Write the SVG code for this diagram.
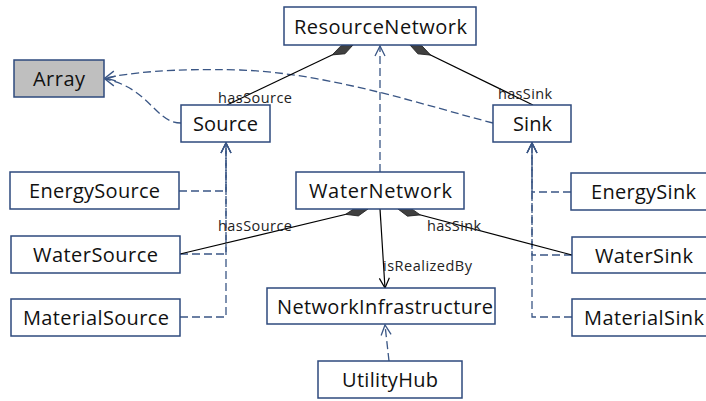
<svg xmlns="http://www.w3.org/2000/svg" width="706" height="401" viewBox="0 0 706 401">
<style>
.box{fill:#fff;stroke:#2e4a7d;stroke-width:1.5}
.gray{fill:#bfbfbf}
.t{font-family:"Open Sans","Noto Sans",sans-serif;font-size:20px;fill:#111;text-anchor:middle}
.l{font-family:"Open Sans","Noto Sans",sans-serif;font-size:14.5px;fill:#222}
.dash{fill:none;stroke:#3a5685;stroke-width:1.3;stroke-dasharray:8 4}
.comp{fill:none;stroke:#000;stroke-width:1.2}
</style>
<defs>
<marker id="open" viewBox="-11 -6 12 12" refX="0" refY="0" markerWidth="12" markerHeight="12" markerUnits="userSpaceOnUse" orient="auto">
<path d="M-10,-5 L0,0 L-10,5" fill="none" stroke="#3a5685" stroke-width="1.3"/>
</marker>
<marker id="openb" viewBox="-11 -6 12 12" refX="0" refY="0" markerWidth="12" markerHeight="12" markerUnits="userSpaceOnUse" orient="auto">
<path d="M-10,-5 L0,0 L-10,5" fill="none" stroke="#000" stroke-width="1.2"/>
</marker>
<marker id="dia" viewBox="-1 -6 25 12" refX="0" refY="0" markerWidth="25" markerHeight="12" markerUnits="userSpaceOnUse" orient="auto">
<path d="M0,0 L11,-4.5 L23,0 L11,4.5 Z" fill="#404040" stroke="#222" stroke-width="0.8"/>
</marker>
</defs>

<g id="connectors">
<path class="dash" d="M181,123 C155,123 150,88 105,79" marker-end="url(#open)"/>
<path class="dash" d="M493,123 C430,107 330,73 240,70 C170,68 130,73 105,78" marker-end="url(#open)"/>
<path class="dash" d="M380,172 V46" marker-end="url(#open)"/>
<path class="dash" d="M179,191 H226 V143" marker-end="url(#open)"/>
<path class="dash" d="M180,254 H226 V143" marker-end="url(#open)"/>
<path class="dash" d="M180,317 H226 V143" marker-end="url(#open)"/>
<path class="dash" d="M571,192 H532 V143" marker-end="url(#open)"/>
<path class="dash" d="M572,255 H532 V143" marker-end="url(#open)"/>
<path class="dash" d="M572,317 H532 V143" marker-end="url(#open)"/>
<path class="dash" d="M389,361 L385,325" marker-end="url(#open)"/>
<path class="comp" d="M353,45 L227,105" marker-start="url(#dia)"/>
<path class="comp" d="M410,45 L533,105" marker-start="url(#dia)"/>
<path class="comp" d="M368,209 L180,254" marker-start="url(#dia)"/>
<path class="comp" d="M398,209 L572,255" marker-start="url(#dia)"/>
<path class="comp" d="M380,209 L385,288" marker-end="url(#openb)"/>
<text class="l" x="218" y="103" textLength="74">hasSource</text>
<text class="l" x="498" y="99" textLength="54">hasSink</text>
<text class="l" x="218" y="231" textLength="74">hasSource</text>
<text class="l" x="427" y="231" textLength="54">hasSink</text>
<text class="l" x="383" y="271" textLength="89">isRealizedBy</text>
</g>

<g id="ResourceNetwork"><rect class="box" x="284" y="7" width="192" height="38"/><text class="t" x="380.5" y="34" textLength="173">ResourceNetwork</text></g>
<g id="Array"><rect class="box gray" x="14" y="60" width="90" height="37"/><text class="t" x="59" y="86" textLength="52">Array</text></g>
<g id="Source"><rect class="box" x="181" y="105" width="89" height="37"/><text class="t" x="225.5" y="131" textLength="65">Source</text></g>
<g id="Sink"><rect class="box" x="493" y="105" width="78" height="37"/><text class="t" x="532.5" y="131" textLength="39">Sink</text></g>
<g id="EnergySource"><rect class="box" x="10" y="172" width="169" height="37"/><text class="t" x="94.5" y="198" textLength="131">EnergySource</text></g>
<g id="WaterSource"><rect class="box" x="11" y="236" width="169" height="37"/><text class="t" x="95.5" y="262" textLength="125">WaterSource</text></g>
<g id="MaterialSource"><rect class="box" x="11" y="299" width="169" height="37"/><text class="t" x="96" y="325" textLength="146">MaterialSource</text></g>
<g id="WaterNetwork"><rect class="box" x="296" y="172" width="168" height="37"/><text class="t" x="380.5" y="198" textLength="143">WaterNetwork</text></g>
<g id="NetworkInfrastructure"><rect class="box" x="267" y="288" width="228" height="36"/><text class="t" x="385" y="314" textLength="216">NetworkInfrastructure</text></g>
<g id="UtilityHub"><rect class="box" x="318" y="361" width="144" height="37"/><text class="t" x="390" y="387" textLength="96">UtilityHub</text></g>
<g id="EnergySink"><rect class="box" x="571" y="173" width="145" height="37"/><text class="t" x="643.5" y="199" textLength="105">EnergySink</text></g>
<g id="WaterSink"><rect class="box" x="572" y="237" width="145" height="36"/><text class="t" x="644" y="262.5" textLength="98">WaterSink</text></g>
<g id="MaterialSink"><rect class="box" x="572" y="299" width="145" height="37"/><text class="t" x="644" y="325" textLength="120">MaterialSink</text></g>
</svg>
